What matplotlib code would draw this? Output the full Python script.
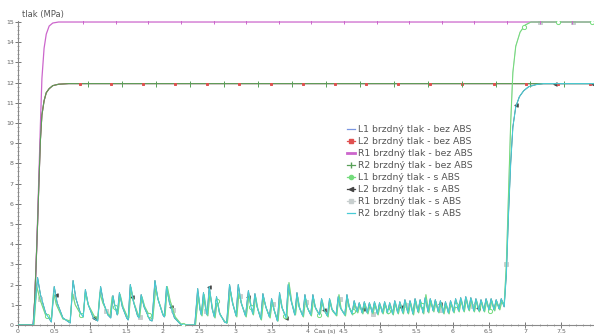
import numpy as np
import matplotlib
matplotlib.use("Agg")
import matplotlib.pyplot as plt
from matplotlib.ticker import MultipleLocator, FormatStrFormatter
from matplotlib.lines import Line2D

# ---------------- data ----------------
series_labels = [
    "L1 brzdný tlak - bez ABS",
    "L2 brzdný tlak - bez ABS",
    "R1 brzdný tlak - bez ABS",
    "R2 brzdný tlak - bez ABS",
    "L1 brzdný tlak - s ABS",
    "L2 brzdný tlak - s ABS",
    "R1 brzdný tlak - s ABS",
    "R2 brzdný tlak - s ABS",
]

# without ABS: step rise to front/rear levels
bez_t = [0.0, 0.21, 0.23, 0.25, 0.27, 0.29, 0.31, 0.33, 0.36, 0.39, 0.43, 0.48, 0.56, 0.70, 7.95]
r1_bez_p = [0.0, 0.0, 1.2, 3.0, 5.2, 7.6, 10.0, 12.2, 13.7, 14.4, 14.8, 14.95, 15.0, 15.0, 15.0]
l1_bez_p = [0.0, 0.0, 1.2, 3.0, 5.0, 7.2, 9.2, 10.4, 11.1, 11.5, 11.7, 11.85, 11.92, 11.95, 11.95]
l2_bez_p = [0.0, 0.0, 1.2, 3.0, 5.0, 7.2, 9.2, 10.4, 11.1, 11.5, 11.7, 11.85, 11.92, 11.95, 11.95]
r2_bez_p = [0.0, 0.0, 1.2, 3.0, 5.0, 7.2, 9.2, 10.4, 11.1, 11.5, 11.7, 11.85, 11.92, 11.95, 11.95]

# with ABS: R2 (cyan) modulated pressure, then final rise
r2_s = [
    (0.00, 0), (0.21, 0), (0.27, 2.35), (0.31, 1.5), (0.38, 0.6), (0.46, 0.15),
    (0.50, 1.9), (0.54, 1.1), (0.62, 0.35), (0.72, 0.1),
    (0.76, 2.2), (0.80, 1.3), (0.86, 0.6), (0.90, 0.4),
    (0.93, 1.75), (0.97, 1.0), (1.04, 0.35), (1.10, 0.2),
    (1.14, 1.9), (1.18, 1.1), (1.24, 0.5), (1.28, 0.35),
    (1.31, 1.45), (1.34, 0.9), (1.37, 0.5),
    (1.40, 1.6), (1.44, 0.9), (1.50, 0.35), (1.52, 0.25),
    (1.55, 2.0), (1.59, 1.2), (1.65, 0.45), (1.67, 0.35),
    (1.70, 1.5), (1.74, 0.9), (1.82, 0.25), (1.85, 0.2),
    (1.89, 2.2), (1.93, 1.3), (2.00, 0.5), (2.02, 0.4),
    (2.05, 1.9), (2.09, 1.1), (2.16, 0.35), (2.24, 0.05), (2.28, 0), (2.44, 0),
    (2.48, 1.8), (2.51, 0.8), (2.53, 0.5), (2.56, 1.6), (2.59, 0.8), (2.61, 0.5),
    (2.64, 1.9), (2.68, 0.8), (2.71, 0.4), (2.74, 1.4), (2.78, 0.6), (2.85, 0.15), (2.88, 0.1),
    (2.92, 2.0), (2.96, 1.1), (3.01, 0.45), (3.04, 2.0), (3.08, 1.1), (3.14, 0.45),
    (3.18, 1.7), (3.21, 1.0), (3.24, 0.55), (3.27, 1.55), (3.30, 0.9), (3.35, 0.3),
    (3.38, 1.55), (3.42, 0.9), (3.47, 0.4), (3.50, 1.3), (3.53, 0.8), (3.58, 0.2),
    (3.61, 1.6), (3.64, 0.9), (3.70, 0.35), (3.73, 2.0), (3.77, 1.2), (3.82, 0.5),
    (3.85, 1.6), (3.88, 0.9), (3.93, 0.45), (3.96, 1.5), (3.99, 0.9), (4.04, 0.5),
    (4.07, 1.5), (4.10, 0.9), (4.16, 0.5), (4.19, 1.3), (4.22, 0.8), (4.27, 0.45),
    (4.30, 1.3), (4.33, 0.8), (4.39, 0.5), (4.42, 1.4), (4.45, 0.85), (4.51, 0.5),
    (4.54, 1.5), (4.57, 0.9), (4.61, 0.55),
    (4.64, 1.2), (4.68, 0.65), (4.71, 1.1), (4.75, 0.6), (4.78, 1.15), (4.82, 0.6),
    (4.85, 1.1), (4.89, 0.6), (4.92, 1.15), (4.96, 0.55), (4.99, 1.1), (5.03, 0.6),
    (5.06, 1.15), (5.10, 0.6), (5.13, 1.1), (5.17, 0.55), (5.20, 1.2), (5.24, 0.6),
    (5.27, 1.15), (5.31, 0.6), (5.34, 1.25), (5.38, 0.6), (5.41, 1.2), (5.45, 0.55),
    (5.48, 1.3), (5.52, 0.65), (5.55, 1.25), (5.59, 0.6), (5.62, 1.35), (5.66, 0.65),
    (5.69, 1.3), (5.73, 0.7), (5.76, 1.25), (5.80, 0.65), (5.83, 1.2), (5.87, 0.6),
    (5.90, 1.15), (5.94, 0.6), (5.97, 1.2), (6.01, 0.65), (6.04, 1.3), (6.08, 0.7),
    (6.11, 1.35), (6.15, 0.7), (6.18, 1.4), (6.22, 0.75), (6.25, 1.35), (6.29, 0.7),
    (6.32, 1.3), (6.36, 0.7), (6.39, 1.25), (6.43, 0.7), (6.46, 1.3), (6.50, 0.75),
    (6.53, 1.3), (6.57, 0.75), (6.60, 1.25), (6.64, 0.8), (6.67, 1.3), (6.71, 0.9),
    (6.74, 2.5), (6.77, 5.5), (6.80, 8.0), (6.83, 9.8), (6.87, 10.8), (6.92, 11.3),
    (6.98, 11.6), (7.05, 11.8), (7.15, 11.9), (7.25, 11.95), (7.95, 11.95),
]

# with ABS: L1 (light green)
l1_s = [
    (0.00, 0), (0.22, 0), (0.26, 1.9), (0.30, 1.3), (0.38, 0.5), (0.46, 0.3),
    (0.49, 1.6), (0.53, 1.0), (0.62, 0.3), (0.72, 0.2),
    (0.75, 1.6), (0.79, 1.0), (0.87, 0.5), (0.90, 0.45),
    (0.93, 1.6), (0.97, 1.0), (1.05, 0.45), (1.10, 0.3),
    (1.13, 1.6), (1.17, 1.1), (1.24, 0.55), (1.27, 0.45),
    (1.30, 1.4), (1.34, 0.9), (1.38, 0.55),
    (1.41, 1.5), (1.45, 0.9), (1.51, 0.4), (1.53, 0.35),
    (1.56, 1.85), (1.60, 1.1), (1.66, 0.5), (1.68, 0.4),
    (1.71, 1.4), (1.75, 0.9), (1.83, 0.35), (1.86, 0.3),
    (1.90, 1.8), (1.94, 1.2), (2.00, 0.55), (2.03, 0.45),
    (2.06, 1.9), (2.10, 1.2), (2.17, 0.4), (2.25, 0.05), (2.29, 0), (2.45, 0),
    (2.49, 1.5), (2.52, 0.7), (2.54, 0.45), (2.57, 1.5), (2.60, 0.7), (2.62, 0.45),
    (2.65, 1.6), (2.69, 0.7), (2.72, 0.35), (2.75, 1.2), (2.79, 0.5), (2.86, 0.15), (2.89, 0.1),
    (2.93, 1.7), (2.97, 1.0), (3.02, 0.4), (3.05, 1.6), (3.09, 1.0), (3.15, 0.4),
    (3.19, 1.5), (3.22, 0.9), (3.25, 0.5), (3.28, 1.4), (3.31, 0.8), (3.36, 0.25),
    (3.39, 1.3), (3.43, 0.8), (3.48, 0.35), (3.51, 1.2), (3.54, 0.7), (3.59, 0.2),
    (3.62, 1.4), (3.65, 0.8), (3.71, 0.3), (3.74, 2.1), (3.78, 1.1), (3.83, 0.5),
    (3.86, 1.4), (3.89, 0.8), (3.94, 0.4), (3.97, 1.3), (4.00, 0.8), (4.05, 0.45),
    (4.08, 1.3), (4.11, 0.8), (4.17, 0.45), (4.20, 1.2), (4.23, 0.7), (4.28, 0.4),
    (4.31, 1.2), (4.34, 0.7), (4.40, 0.45), (4.43, 1.5), (4.46, 0.8), (4.52, 0.45),
    (4.55, 1.3), (4.58, 0.8), (4.62, 0.5),
    (4.65, 1.05), (4.69, 0.6), (4.72, 1.0), (4.76, 0.55), (4.79, 1.05), (4.83, 0.55),
    (4.86, 1.0), (4.90, 0.55), (4.93, 1.05), (4.97, 0.5), (5.00, 1.0), (5.04, 0.55),
    (5.07, 1.05), (5.11, 0.55), (5.14, 1.0), (5.18, 0.5), (5.21, 1.1), (5.25, 0.55),
    (5.28, 1.05), (5.32, 0.55), (5.35, 1.15), (5.39, 0.55), (5.42, 1.1), (5.46, 0.5),
    (5.49, 1.2), (5.53, 0.6), (5.56, 1.15), (5.60, 0.55), (5.63, 1.5), (5.67, 0.6),
    (5.70, 1.2), (5.74, 0.65), (5.77, 1.15), (5.81, 0.6), (5.84, 1.1), (5.88, 0.55),
    (5.91, 1.05), (5.95, 0.55), (5.98, 1.1), (6.02, 0.6), (6.05, 1.2), (6.09, 0.65),
    (6.12, 1.25), (6.16, 0.65), (6.19, 1.3), (6.23, 0.7), (6.26, 1.25), (6.30, 0.65),
    (6.33, 1.2), (6.37, 0.65), (6.40, 1.15), (6.44, 0.65), (6.47, 1.2), (6.51, 0.7),
    (6.54, 1.2), (6.58, 0.7), (6.61, 1.15), (6.65, 0.75), (6.68, 1.2), (6.71, 1.0),
    (6.74, 3.0), (6.77, 6.5), (6.80, 10.0), (6.83, 12.5), (6.87, 13.8), (6.93, 14.5),
    (7.00, 14.85), (7.08, 15.0), (7.95, 15.0),
]

x_ticks = [0, 0.5, 1, 1.5, 2, 2.5, 3, 3.5, 4, 4.5, 5, 5.5, 6, 6.5, 7, 7.5]
y_ticks = list(range(0, 16))

# ---------------- styles ----------------
c_l1_bez = "#7a96e0"
c_l2_bez = "#e05050"
c_r1_bez = "#cc66cc"
c_r2_bez = "#58a058"
c_l1_s = "#74dc7c"
c_l2_s = "#444444"
c_r1_s = "#c8cfcf"
c_r2_s = "#48cbd6"

W, H = 594, 334
fig = plt.figure(figsize=(W / 100, H / 100), dpi=100)
ax = fig.add_axes([18 / W, 9 / H, (W - 18) / W, (325 - 21) / H])
ax.set_xlim(0, 7.95)
ax.set_ylim(0, 15.05)

r2_t, r2_p = zip(*r2_s)
l1_t, l1_p = zip(*l1_s)


def with_markers(t, p, color, marker, start, step, ms=3, mfc=None, zorder=3, lw=0.8):
    ax.plot(t, p, color=color, lw=lw, zorder=zorder)
    mt = np.arange(start, 7.95, step)
    mp = np.interp(mt, t, p)
    ax.plot(mt, mp, ls="none", marker=marker, ms=ms, color=color,
            mfc=mfc if mfc else color, mew=0.7, zorder=zorder + 0.1)


# without ABS
ax.plot(bez_t, l1_bez_p, color=c_l1_bez, lw=0.8, zorder=2)
with_markers(bez_t, l2_bez_p, c_l2_bez, "s", 0.85, 0.44, ms=2)
with_markers(bez_t, r1_bez_p, c_r1_bez, "|", 0.9, 0.45, ms=3, lw=0.9)
with_markers(bez_t, r2_bez_p, c_r2_bez, "|", 0.96, 0.47, ms=4)

# with ABS
with_markers(r2_t, r2_p, c_l2_s, "<", 0.52, 0.53, ms=2.5, lw=0.6, zorder=2)
with_markers(l1_t, l1_p, c_r1_s, "s", 0.3, 0.46, ms=2.5, lw=0.6, zorder=2)
with_markers(l1_t, l1_p, c_l1_s, "o", 0.4, 0.47, ms=3, mfc="white", lw=0.8, zorder=3)
ax.plot(r2_t, r2_p, color=c_r2_s, lw=0.8, zorder=4)

# axes styling
for s in ["top", "right"]:
    ax.spines[s].set_visible(False)
for s in ["left", "bottom"]:
    ax.spines[s].set_color("#8a8a8a")
    ax.spines[s].set_linewidth(0.8)
ax.set_xticks(x_ticks)
ax.set_yticks(y_ticks)
ax.xaxis.set_major_formatter(FormatStrFormatter("%g"))
ax.xaxis.set_minor_locator(MultipleLocator(0.1))
ax.yaxis.set_minor_locator(MultipleLocator(0.2))
ax.tick_params(which="major", direction="inout", length=4, width=0.7, color="#777777",
               labelsize=4.5, labelcolor="#666666", pad=1)
ax.tick_params(which="minor", direction="inout", length=2, width=0.5, color="#888888")
ax.set_facecolor("white")

fig.text(22 / W, 1 - 14 / H, "tlak (MPa)", fontsize=6, color="#555555", va="center", ha="left")
fig.text(325 / W, 1 - 331 / H, "Čas (s)", fontsize=4.5, color="#555555", va="center", ha="center")

# legend
handles = [
    Line2D([], [], color=c_l1_bez, lw=0.9),
    Line2D([], [], color=c_l2_bez, lw=0.9, marker="s", ms=2.5),
    Line2D([], [], color=c_r1_bez, lw=2.0),
    Line2D([], [], color=c_r2_bez, lw=0.9, marker="|", ms=4),
    Line2D([], [], color=c_l1_s, lw=0.9, marker="o", ms=3),
    Line2D([], [], color=c_l2_s, lw=0.9, marker="<", ms=3),
    Line2D([], [], color=c_r1_s, lw=0.9, marker="s", ms=3),
    Line2D([], [], color=c_r2_s, lw=0.9),
]
leg = fig.legend(handles, series_labels, loc="upper left",
                 bbox_to_anchor=(347 / W, 1 - 125 / H), frameon=False,
                 fontsize=6.7, handlelength=0.9, handletextpad=0.25,
                 labelspacing=0.33, borderaxespad=0, borderpad=0)
for t in leg.get_texts():
    t.set_color("#555555")

fig.savefig("out.png", dpi=100, facecolor="white")
